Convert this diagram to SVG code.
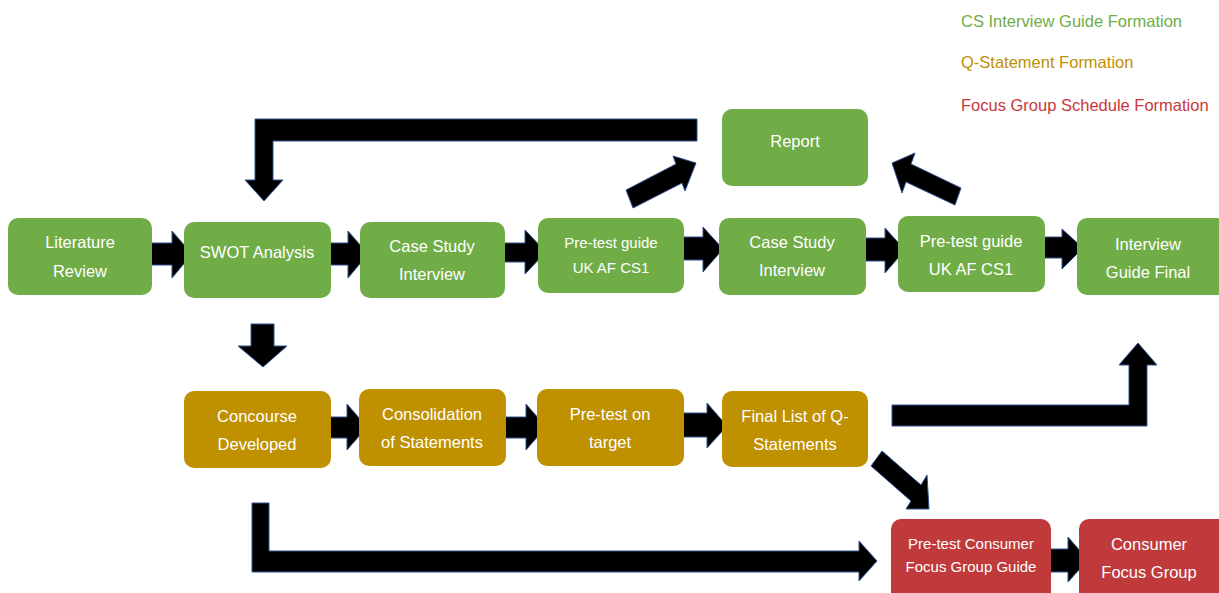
<svg xmlns="http://www.w3.org/2000/svg" width="1219" height="593" viewBox="0 0 1219 593">
<style>
.g{fill:#70AD47}
.o{fill:#BF9000}
.r{fill:#C0393B}
.t{fill:#ffffff;font-family:"Liberation Sans",Arial,sans-serif;font-size:16.5px;text-anchor:middle}
.s{font-size:15px}
.ar{fill:#000000;stroke:#2F528F;stroke-width:1;stroke-linejoin:miter}
.lg{font-family:"Liberation Sans",Arial,sans-serif;font-size:16.5px}
</style>
<rect width="1219" height="593" fill="#ffffff"/>
<g id="legend">
<text class="lg" x="961" y="27" fill="#70AD47">CS Interview Guide Formation</text>
<text class="lg" x="961" y="68" fill="#BF9000">Q-Statement Formation</text>
<text class="lg" x="961" y="111" fill="#C9383B">Focus Group Schedule Formation</text>
</g>
<g id="connectors">
<polygon class="ar" points="150,243 172,243 172,231 192,254 172,278 172,265 150,265"/>
<polygon class="ar" points="326,243 348,243 348,231 368,254 348,278 348,265 326,265"/>
<polygon class="ar" points="503,243 525,243 525,230 546,252 525,274 525,262 503,262"/>
<polygon class="ar" points="681,237 703,237 703,227 723,249 703,272 703,260 681,260"/>
<polygon class="ar" points="863,238 885,238 885,228 905,250 885,273 885,261 863,261"/>
<polygon class="ar" points="1042,237 1062,237 1062,229 1083,248 1062,269 1062,258 1042,258"/>
<polygon class="ar" points="697,119 255,119 255,180 245,180 264,201 283,180 273,180 273,141 697,141"/>
<polygon class="ar" points="626,190 676,164 673,156 696,163 685,191 682,183 633,208"/>
<polygon class="ar" points="961,188 911,164 915,153 892,163 902,193 906,182 955,205"/>
<polygon class="ar" points="251,324 274,324 274,346 287,346 263,367 238,346 251,346"/>
<polygon class="ar" points="325,417 347,417 347,404 367,427 347,450 347,438 325,438"/>
<polygon class="ar" points="504,417 526,417 526,404 546,427 526,450 526,438 504,438"/>
<polygon class="ar" points="683,413 707,413 707,403 727,426 707,448 707,437 683,437"/>
<polygon class="ar" points="892,405 1129,405 1129,365 1119,365 1138,343 1157,365 1147,365 1147,426 892,426"/>
<polygon class="ar" points="882,451 921,485 927,475 929,509 906,509 911,501 871,466"/>
<polygon class="ar" points="252,503 269,503 269,551 859,551 859,541 877,561 859,581 859,572 252,572"/>
<polygon class="ar" points="1050,549 1068,549 1068,537 1088,560 1068,582 1068,572 1050,572"/>
</g>
<g id="literature-review">
<rect class="g" x="8" y="218" width="144" height="77" rx="10"/>
<text class="t" x="80" y="248">Literature</text>
<text class="t" x="80" y="277">Review</text>
</g>
<g id="swot-analysis">
<rect class="g" x="184" y="222" width="147" height="76" rx="10"/>
<text class="t" x="257" y="258">SWOT Analysis</text>
</g>
<g id="case-study-1">
<rect class="g" x="360" y="222" width="145" height="76" rx="10"/>
<text class="t" x="432" y="252">Case Study</text>
<text class="t" x="432" y="280">Interview</text>
</g>
<g id="pretest-guide-1">
<rect class="g" x="538" y="218" width="146" height="75" rx="10"/>
<text class="t s" x="611" y="248">Pre-test guide</text>
<text class="t s" x="611" y="273">UK AF CS1</text>
</g>
<g id="case-study-2">
<rect class="g" x="719" y="218" width="147" height="77" rx="10"/>
<text class="t" x="792" y="248">Case Study</text>
<text class="t" x="792" y="276">Interview</text>
</g>
<g id="report">
<rect class="g" x="722" y="109" width="146" height="77" rx="10"/>
<text class="t" x="795" y="147">Report</text>
</g>
<g id="pretest-guide-2">
<rect class="g" x="898" y="216" width="147" height="76" rx="10"/>
<text class="t" x="971" y="247">Pre-test guide</text>
<text class="t" x="971" y="275">UK AF CS1</text>
</g>
<g id="interview-guide-final">
<rect class="g" x="1077" y="218" width="150" height="77" rx="10"/>
<text class="t" x="1148" y="250">Interview</text>
<text class="t" x="1148" y="278">Guide Final</text>
</g>
<g id="concourse-developed">
<rect class="o" x="184" y="391" width="147" height="77" rx="10"/>
<text class="t" x="257" y="422">Concourse</text>
<text class="t" x="257" y="450">Developed</text>
</g>
<g id="consolidation">
<rect class="o" x="359" y="389" width="147" height="77" rx="10"/>
<text class="t" x="432" y="420">Consolidation</text>
<text class="t" x="432" y="448">of Statements</text>
</g>
<g id="pretest-target">
<rect class="o" x="537" y="389" width="147" height="77" rx="10"/>
<text class="t" x="610" y="420">Pre-test on</text>
<text class="t" x="610" y="448">target</text>
</g>
<g id="final-list">
<rect class="o" x="722" y="391" width="146" height="76" rx="10"/>
<text class="t" x="795" y="422">Final List of Q-</text>
<text class="t" x="795" y="450">Statements</text>
</g>
<g id="pretest-consumer">
<rect class="r" x="891" y="519" width="160" height="90" rx="10"/>
<text class="t s" x="971" y="549">Pre-test Consumer</text>
<text class="t s" x="971" y="572">Focus Group Guide</text>
</g>
<g id="consumer-focus-group">
<rect class="r" x="1079" y="519" width="150" height="90" rx="10"/>
<text class="t" x="1149" y="550">Consumer</text>
<text class="t" x="1149" y="578">Focus Group</text>
</g>
</svg>
